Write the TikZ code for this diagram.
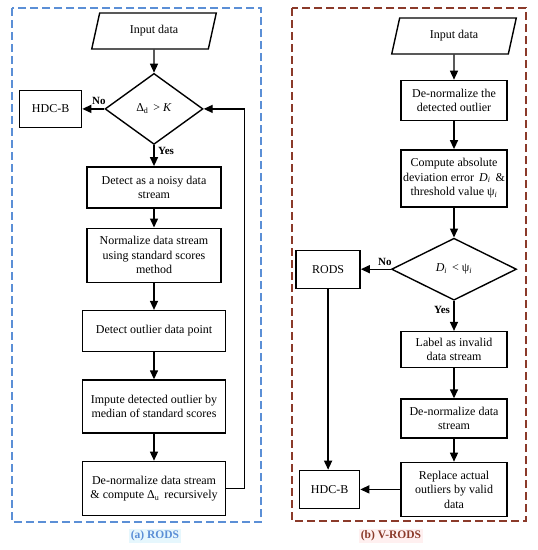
\documentclass[tikz,border=0pt]{standalone}
\usepackage{fontspec}
\setmainfont{Liberation Serif}
\usepackage{xcolor}
\usetikzlibrary{arrows.meta, positioning, shapes.geometric}

\definecolor{rodsblue}{RGB}{91,143,214}
\definecolor{rodsbrown}{RGB}{139,58,42}

\begin{document}
\begin{tikzpicture}[
  x=1pt, y=-1pt,
  font=\fontsize{12}{14.5}\selectfont,
  decision/.style={diamond, draw, line width=1.4pt, aspect=1.5,
                   inner sep=0pt, align=center},
  process/.style={draw, line width=1.4pt, inner sep=2pt, align=center},
  inout/.style={trapezium, draw, line width=1.4pt,
                trapezium left angle=72, trapezium right angle=108,
                trapezium stretches=true, minimum width=125pt,
                minimum height=36pt, inner sep=0pt},
  arrow/.style={-{Triangle[length=9pt,width=8pt]}, line width=1.4pt},
  yes/.style={font=\fontsize{11}{12}\selectfont\bfseries},
  no/.style={font=\fontsize{11}{12}\selectfont\bfseries},
  frameA/.style={draw=rodsblue, line width=1.4pt, dash pattern=on 8pt off 4pt},
  frameB/.style={draw=rodsbrown, line width=1.4pt, dash pattern=on 8pt off 4pt},
  caption/.style={font=\fontsize{11.5}{13}\selectfont\bfseries, inner sep=1.5pt},
]
\useasboundingbox (0,0) rectangle (538,550);

% frames
\draw[frameA] (12,8) rectangle (261,522);
\draw[frameB] (292,8) rectangle (526,521);
\node[caption, text=rodsblue, fill=cyan!10] (capA) at (155,536) {(a) RODS};
\node[caption, text=rodsbrown, fill=red!6] (capB) at (391,536) {(b) V-RODS};

% (a) RODS
\node[inout] (inL) at (154,31) {Input data};
\node[decision, below=23pt of inL, minimum width=98pt, minimum height=71pt]
  (decL) {Δ\textsubscript{d} \,> \textit{K}};
\node[process, left=22pt of decL, minimum width=62pt, minimum height=37pt]
  (hdcL) {HDC-B};
\node[process, below=21pt of decL, minimum width=134pt, minimum height=41pt]
  (detL) {Detect as a noisy data\\stream};
\node[process, below=19pt of detL, minimum width=134pt, minimum height=54pt]
  (normL) {Normalize data stream\\using standard scores\\method};
\node[process, below=27pt of normL, minimum width=143pt, minimum height=41pt]
  (outL) {Detect outlier data point};
\node[process, below=27pt of outL, minimum width=143pt, minimum height=53pt]
  (impL) {Impute detected outlier by\\median of standard scores};
\node[process, below=27pt of impL, minimum width=143pt, minimum height=54pt]
  (denL) {De-normalize data stream\\\& compute Δ\textsubscript{u} \,recursively};

\draw[arrow] (inL) -- (decL);
\draw[arrow] (decL) -- node[no, above, pos=0.25]{No} (hdcL);
\draw[arrow] (decL) -- node[yes, right, pos=0.3]{Yes} (detL);
\draw[arrow] (detL) -- (normL);
\draw[arrow] (normL) -- (outL);
\draw[arrow] (outL) -- (impL);
\draw[arrow] (impL) -- (denL);
\draw[arrow] (denL.east) -- ++(18,0) |- (decL.east);

% (b) V-RODS
\node[inout] (inR) at (454,36) {Input data};
\node[process, below=25pt of inR, minimum width=106pt, minimum height=40pt]
  (dnR) {De-normalize the\\detected outlier};
\node[process, below=28pt of dnR, minimum width=106pt, minimum height=57pt]
  (cmpR) {Compute absolute\\deviation error \,\textit{D}\textsubscript{\textit{i}} \,\&\\threshold value ψ\textsubscript{\textit{i}}};
\node[decision, below=30pt of cmpR, minimum width=125pt, minimum height=62pt]
  (decR) {\textit{D}\textsubscript{\textit{i}} \,< ψ\textsubscript{\textit{i}}};
\node[process, left=30pt of decR, minimum width=64pt, minimum height=38pt]
  (rodsR) {RODS};
\node[process, below=30pt of decR, minimum width=106pt, minimum height=36pt]
  (lblR) {Label as invalid\\data stream};
\node[process, below=30pt of lblR, minimum width=106pt, minimum height=39pt]
  (dn2R) {De-normalize data\\stream};
\node[process, below=23pt of dn2R, minimum width=106pt, minimum height=54pt]
  (repR) {Replace actual\\outliers by valid\\data};
\node[process, left=40pt of repR, minimum width=60pt, minimum height=38pt]
  (hdcR) {HDC-B};

\draw[arrow] (inR) -- (dnR);
\draw[arrow] (dnR) -- (cmpR);
\draw[arrow] (cmpR) -- (decR);
\draw[arrow] (decR) -- node[no, above, pos=0.2]{No} (rodsR);
\draw[arrow] (decR) -- node[yes, left, pos=0.3]{Yes} (lblR);
\draw[arrow] (lblR) -- (dn2R);
\draw[arrow] (dn2R) -- (repR);
\draw[arrow] (repR) -- (hdcR);
\draw[arrow] (rodsR) -- (rodsR |- hdcR.north);
\end{tikzpicture}
\end{document}
